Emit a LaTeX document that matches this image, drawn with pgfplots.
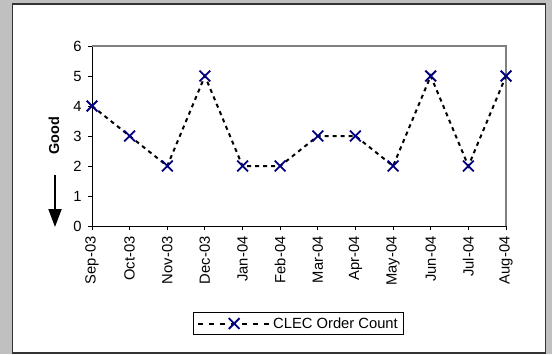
\documentclass[border=0pt]{standalone}
\usepackage{fontspec}
\setmainfont{Liberation Sans}
\usepackage{pgfplots}
\pgfplotsset{compat=1.18}
\usetikzlibrary{arrows.meta}
\definecolor{bggray}{HTML}{C0C0C0}
\definecolor{navy}{HTML}{000080}
\definecolor{framegray}{HTML}{808080}

\begin{document}
\begin{tikzpicture}[x=1bp,y=1bp]
\fill[bggray] (0,0) rectangle (552,354);
\draw[fill=white, draw=black!80, line width=1.3bp] (12.5,1) rectangle (545.5,350);

% "Good" label with arrow pointing down
\node[rotate=90, font=\fontsize{14.5}{16}\selectfont\bfseries] at (54,218) {Good};
\draw[line width=2bp, -{Triangle[width=13bp,length=18bp]}] (55,179) -- (55,127);

\begin{axis}[
    at={(92bp,128bp)}, anchor=south west,
    width=414bp, height=180bp, scale only axis,
    xmin=0, xmax=11, ymin=0, ymax=6,
    axis x line*=bottom, axis y line*=left,
    x axis line style={-, line width=1bp},
    y axis line style={-, line width=1bp},
    xtick={0,...,11},
    xticklabels={Sep-03,Oct-03,Nov-03,Dec-03,Jan-04,Feb-04,Mar-04,Apr-04,May-04,Jun-04,Jul-04,Aug-04},
    ytick={0,...,6},
    tick align=outside,
    major tick length=4bp,
    tick style={black, line width=1bp},
    /pgf/number format/assume math mode=true,
    tick label style={font=\fontsize{14.8}{16}\selectfont},
    xticklabel style={rotate=90, anchor=east, xshift=-3bp},
    yticklabel style={xshift=-3bp},
    legend style={at={(0.4988,-0.5417)}, anchor=center, draw=black, line width=0.8bp,
        font=\fontsize{14.8}{16}\selectfont, inner xsep=4bp, inner ysep=3bp},
    legend image code/.code={
        \draw[#1, mark=none, dash pattern=on 5bp off 6bp] (0bp,0bp) -- (72bp,0bp);
        \draw[#1, only marks] plot coordinates {(36bp,0bp)};
    },
    clip=false,
]
\draw[framegray, line width=1.5bp] (rel axis cs:0,1) -- (rel axis cs:1,1) -- (rel axis cs:1,0);

\addplot[
    black, line width=2bp, dash pattern=on 4bp off 4bp,
    mark=x, mark size=7.6bp,
    mark options={navy, solid, line width=1.8bp},
] coordinates {
    (0,4) (1,3) (2,2) (3,5) (4,2) (5,2) (6,3) (7,3) (8,2) (9,5) (10,2) (11,5)
};
\addlegendentry{CLEC Order Count}
\end{axis}
\end{tikzpicture}
\end{document}
